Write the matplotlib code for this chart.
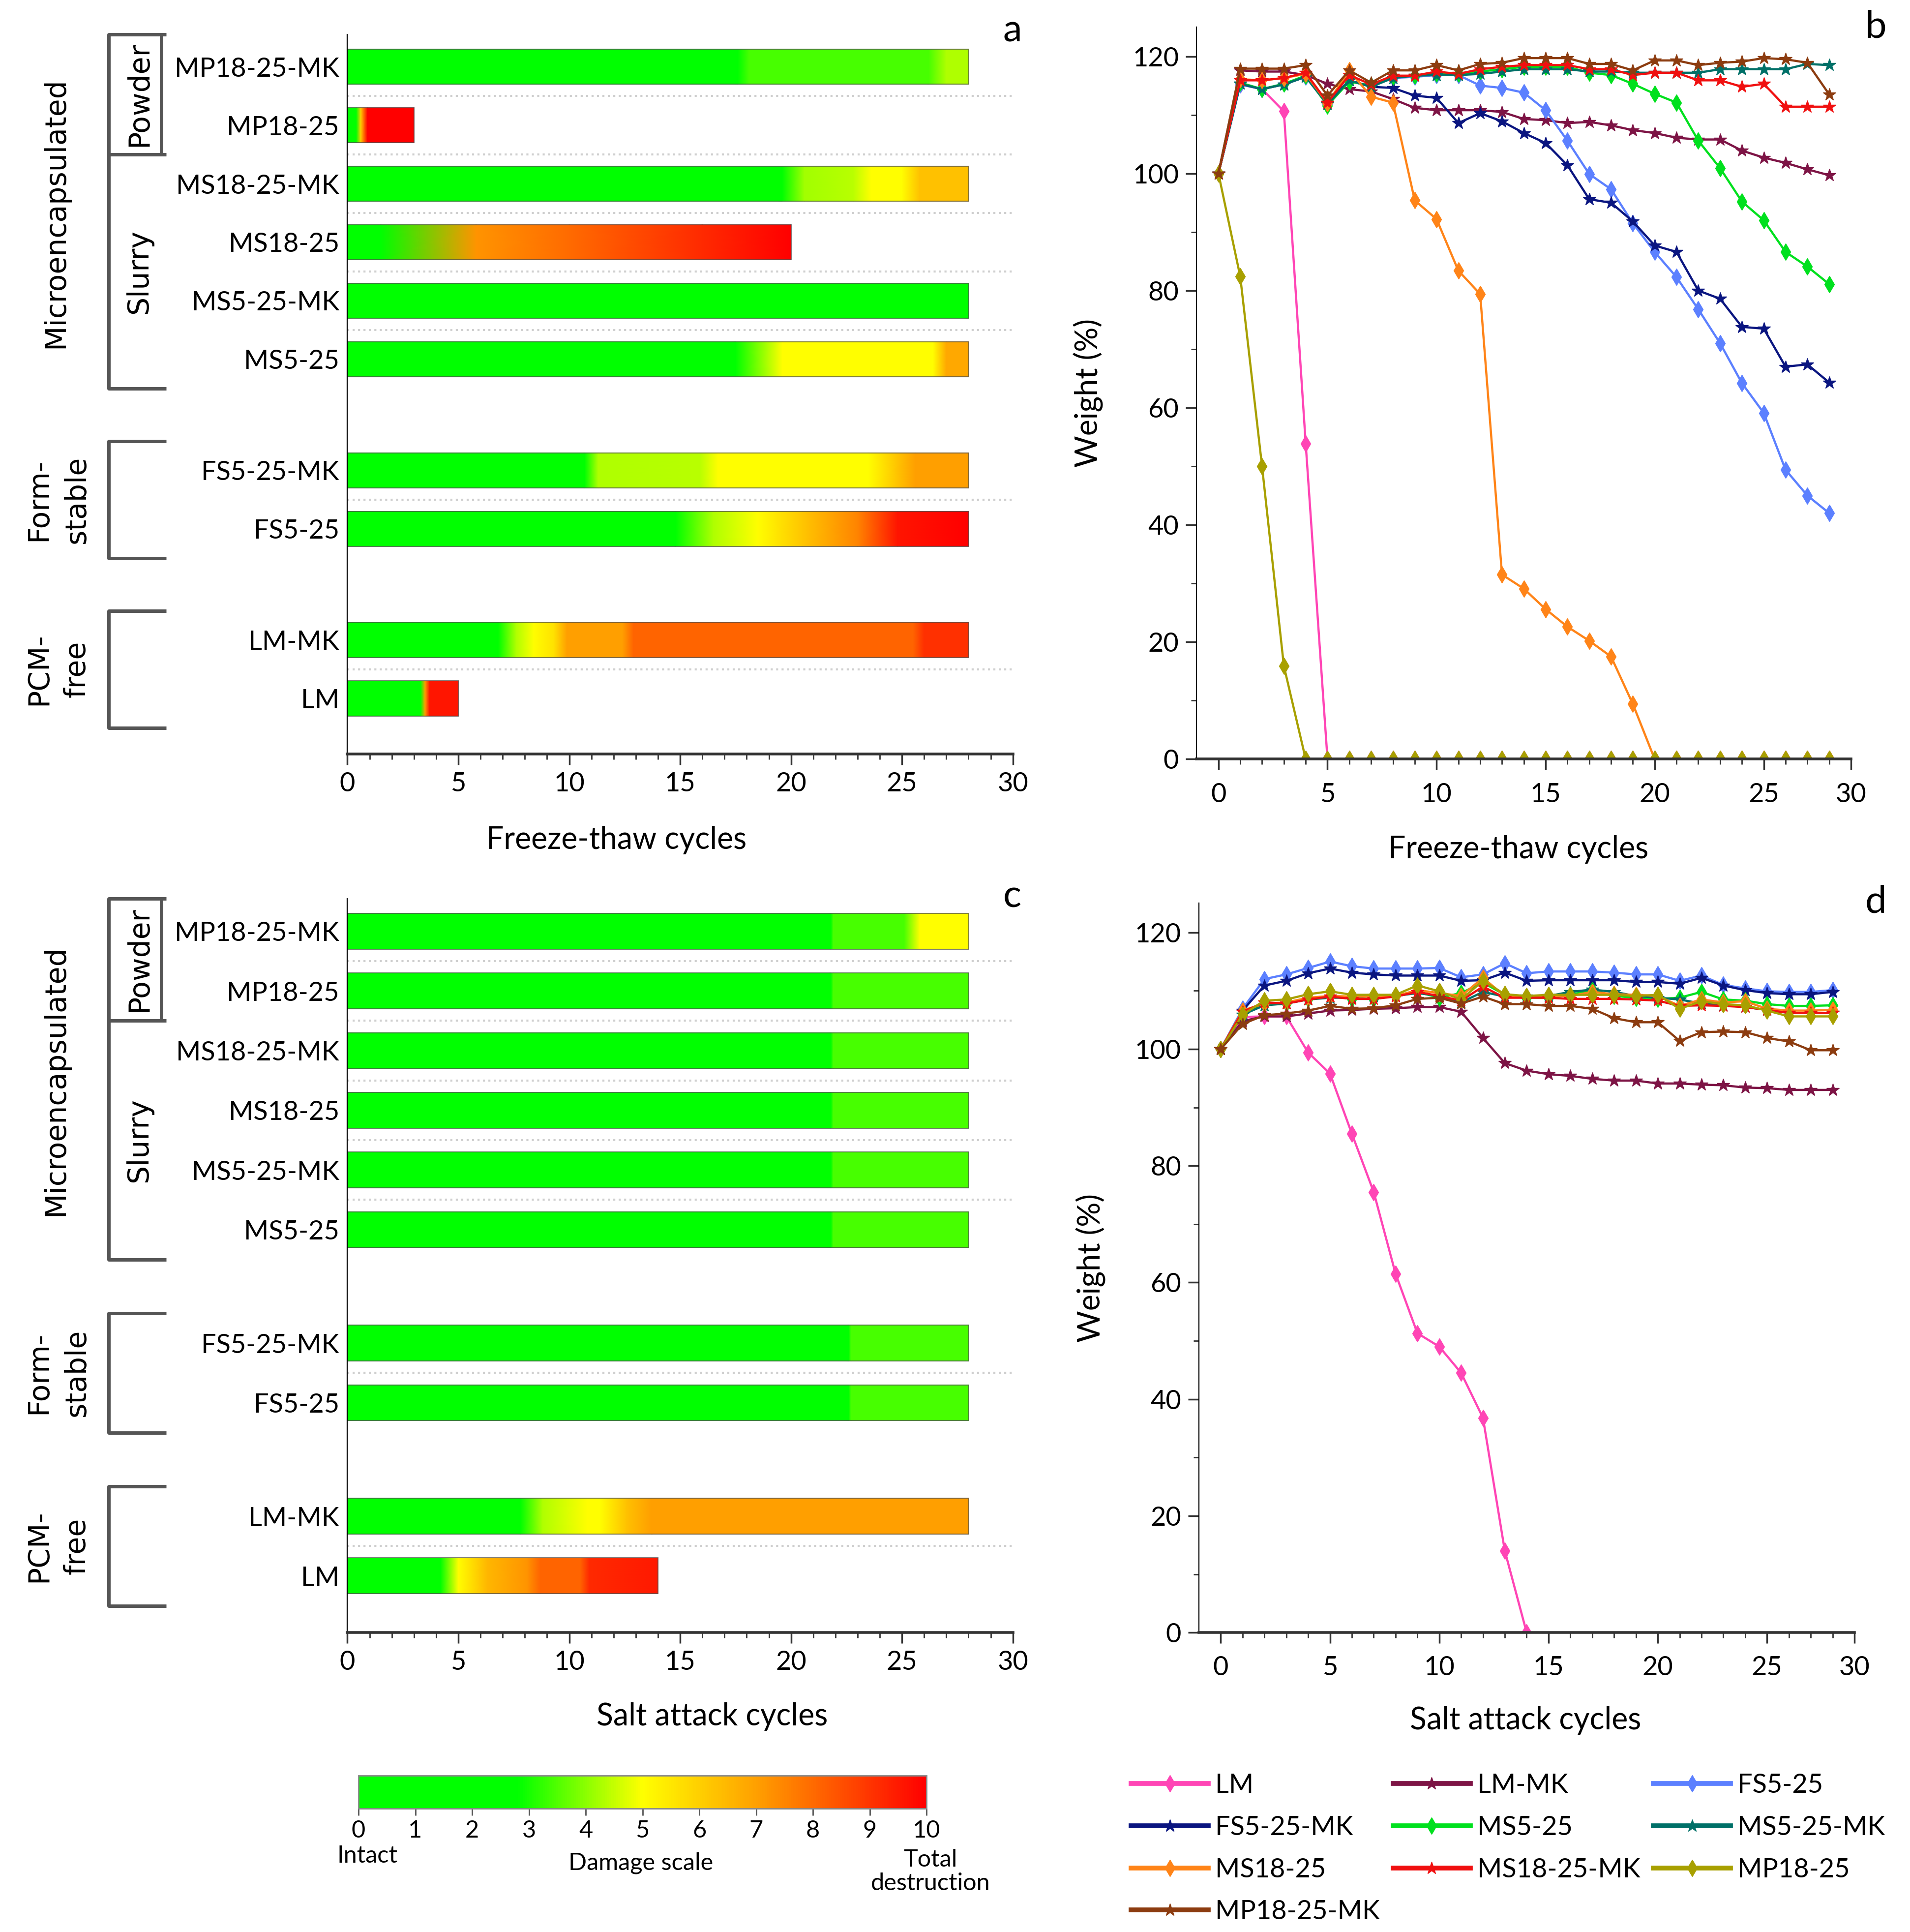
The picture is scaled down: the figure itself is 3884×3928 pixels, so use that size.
import matplotlib.pyplot as plt
import numpy as np
import matplotlib.cm as cm
from matplotlib.colors import LinearSegmentedColormap, Normalize
from matplotlib.patches import Rectangle
from matplotlib.ticker import FixedLocator, MultipleLocator

plt.rcParams['font.family'] = ['Lato', 'DejaVu Sans']

# ---- data ----------------------------------------------------------------
samples = ['LM', 'LM-MK', 'FS5-25', 'FS5-25-MK', 'MS5-25', 'MS5-25-MK',
           'MS18-25', 'MS18-25-MK', 'MP18-25', 'MP18-25-MK']
sample_group = [0, 0, 1, 1, 2, 2, 2, 2, 2, 2]   # PCM-free, Form-stable, Microencapsulated

colors = ['#ff45b5', '#7d1445', '#5c80ff', '#0a1580', '#00e01e', '#007068',
          '#ff8418', '#f01010', '#a8a000', '#8c3c10']
markers = ['d', '*', 'd', '*', 'd', '*', 'd', '*', 'd', '*']

cycles = list(range(29))

# damage scale (0-10) along each bar: (cycle, damage) colour stops
ft_damage = {
    'LM':         [(0, 0), (3.3, 0), (3.5, 7), (3.7, 9.6), (5, 9.6)],
    'LM-MK':      [(0, 0), (6.8, 0), (7.6, 4.3), (8.4, 5), (9.3, 5.6), (9.9, 7), (12.4, 7),
                   (12.9, 8.1), (25.5, 8.1), (26, 9.1), (28, 9.1)],
    'FS5-25':     [(0, 0), (14.8, 0), (16.5, 4.3), (18.5, 5), (20.5, 6.2), (23, 7.5),
                   (24.8, 9.6), (28, 10)],
    'FS5-25-MK':  [(0, 0), (10.7, 0), (11.3, 4.3), (15.9, 4.4), (16.7, 5), (23.5, 5),
                   (25.6, 7), (28, 7)],
    'MS5-25':     [(0, 0), (17.5, 0), (19.6, 5), (26.4, 5), (27, 6.8), (28, 6.8)],
    'MS5-25-MK':  [(0, 0), (28, 0)],
    'MS18-25':    [(0, 0), (1.5, 0), (5.8, 7.2), (10, 8.0), (16, 9.2), (20, 10)],
    'MS18-25-MK': [(0, 0), (19.6, 0), (20.6, 4.2), (22.8, 4.4), (23.6, 5), (25, 5),
                   (25.8, 6.3), (28, 6.3)],
    'MP18-25':    [(0, 0), (0.4, 0), (0.6, 6), (0.9, 10), (3, 10)],
    'MP18-25-MK': [(0, 0), (17.6, 0), (18.1, 3.4), (26.2, 3.4), (27, 4.3), (28, 4.3)],
}
sa_damage = {
    'LM':         [(0, 0), (4.2, 0), (5.0, 5), (6.3, 6.5), (8.1, 7.2), (8.7, 8.1),
                   (10.5, 8.1), (10.9, 9.2), (14, 9.5)],
    'LM-MK':      [(0, 0), (7.8, 0), (8.8, 4.3), (10.8, 5), (11.4, 5), (12.6, 6.3),
                   (13.7, 7), (28, 7)],
    'FS5-25':     [(0, 0), (22.6, 0), (22.7, 3.4), (28, 3.4)],
    'FS5-25-MK':  [(0, 0), (22.6, 0), (22.7, 3.4), (28, 3.4)],
    'MS5-25':     [(0, 0), (21.8, 0), (21.9, 3.4), (28, 3.4)],
    'MS5-25-MK':  [(0, 0), (21.8, 0), (21.9, 3.4), (28, 3.4)],
    'MS18-25':    [(0, 0), (21.8, 0), (21.9, 3.4), (28, 3.4)],
    'MS18-25-MK': [(0, 0), (21.8, 0), (21.9, 3.4), (28, 3.4)],
    'MP18-25':    [(0, 0), (21.8, 0), (21.9, 3.4), (28, 3.4)],
    'MP18-25-MK': [(0, 0), (21.8, 0), (21.9, 3.4), (25.1, 3.4), (25.8, 5), (28, 5)],
}

# weight (%) after each cycle
ft_weight = {
    'LM':         [100, 115.2, 114.4, 110.6, 53.9] + [0] * 24,
    'LM-MK':      [100, 117.6, 117.4, 117.4, 116.8, 115.3, 114.4, 114.0, 112.7, 111.2, 110.8,
                   110.8, 110.8, 110.5, 109.3, 109.1, 108.6, 108.8, 108.2, 107.4, 106.9, 106.1,
                   105.8, 105.8, 103.9, 102.7, 101.8, 100.7, 99.7],
    'FS5-25':     [100, 115.2, 114.4, 115.3, 116.5, 111.8, 115.7, 115.0, 116.3, 116.5, 116.8,
                   116.8, 115.0, 114.6, 113.8, 110.8, 105.6, 99.9, 97.3, 91.5, 86.6, 82.3, 76.8,
                   71.0, 64.2, 59.1, 49.4, 45.0, 42.0],
    'FS5-25-MK':  [100, 115.3, 114.4, 115.2, 116.5, 112.1, 115.9, 114.8, 114.6, 113.3, 112.9,
                   108.6, 110.3, 108.9, 106.9, 105.2, 101.4, 95.6, 95.0, 91.8, 87.7, 86.6, 80.0,
                   78.6, 73.8, 73.5, 67.0, 67.4, 64.3],
    'MS5-25':     [100, 115.5, 114.4, 115.3, 116.7, 111.6, 115.7, 115.0, 116.5, 116.7, 117.0,
                   117.0, 117.4, 117.8, 118.2, 118.2, 118.2, 117.2, 116.8, 115.3, 113.6, 112.1,
                   105.6, 100.9, 95.2, 92.0, 86.6, 84.1, 81.1],
    'MS5-25-MK':  [100, 115.3, 114.4, 115.2, 116.5, 111.8, 115.9, 114.8, 116.3, 116.7, 116.8,
                   116.8, 117.0, 117.4, 117.8, 117.8, 117.8, 117.4, 117.4, 117.2, 117.2, 117.2,
                   117.2, 117.8, 117.8, 117.8, 117.8, 118.7, 118.5],
    'MS18-25':    [100, 116.1, 115.9, 116.3, 117.0, 112.0, 117.6, 113.1, 112.1, 95.4, 92.2, 83.4,
                   79.4, 31.5, 29.1, 25.6, 22.6, 20.2, 17.5, 9.4] + [0] * 9,
    'MS18-25-MK': [100, 115.9, 115.9, 116.3, 117.2, 112.1, 116.8, 115.2, 116.7, 116.7, 117.4,
                   117.0, 117.8, 118.2, 118.5, 118.5, 118.5, 117.8, 117.8, 116.8, 117.2, 117.2,
                   115.9, 115.9, 114.8, 115.3, 111.4, 111.4, 111.4],
    'MP18-25':    [100, 82.4, 50.0, 15.9] + [0] * 25,
    'MP18-25-MK': [100, 117.9, 117.9, 117.9, 118.5, 113.3, 117.6, 115.5, 117.6, 117.6, 118.5,
                   117.6, 118.7, 118.9, 119.7, 119.7, 119.7, 118.7, 118.7, 117.6, 119.3, 119.3,
                   118.5, 118.9, 119.1, 119.7, 119.5, 118.9, 113.5],
}
sa_weight = {
    'LM':         [100, 105.5, 105.6, 105.6, 99.4, 95.8, 85.5, 75.5, 61.5, 51.3, 49.0, 44.5,
                   36.8, 14.0, 0],
    'LM-MK':      [100, 104.8, 105.6, 105.6, 106.1, 106.6, 106.7, 106.9, 107.0, 107.2, 107.2,
                   106.4, 101.9, 97.6, 96.3, 95.7, 95.4, 94.9, 94.6, 94.6, 94.1, 94.1, 93.9,
                   93.8, 93.4, 93.3, 93.0, 93.0, 93.0],
    'FS5-25':     [100, 106.9, 112.0, 112.8, 113.9, 115.0, 114.2, 113.8, 113.8, 113.8, 113.9,
                   112.3, 112.8, 114.7, 113.0, 113.3, 113.3, 113.3, 113.1, 112.8, 112.8, 111.7,
                   112.6, 111.0, 110.4, 109.9, 109.8, 109.8, 110.1],
    'FS5-25-MK':  [100, 106.6, 110.9, 111.7, 113.0, 113.8, 113.1, 112.8, 112.6, 112.6, 112.6,
                   111.7, 111.8, 113.1, 111.7, 111.8, 111.8, 111.8, 111.8, 111.5, 111.5, 111.2,
                   112.2, 110.9, 110.1, 109.6, 109.4, 109.4, 109.8],
    'MS5-25':     [100, 105.9, 107.7, 107.8, 108.6, 109.1, 108.6, 108.6, 109.1, 109.8, 108.8,
                   109.6, 111.4, 109.3, 108.8, 108.8, 109.3, 110.1, 109.1, 108.8, 108.6, 108.8,
                   109.8, 108.5, 108.3, 107.7, 107.4, 107.4, 107.5],
    'MS5-25-MK':  [100, 105.9, 107.5, 107.8, 108.5, 108.8, 108.8, 109.1, 109.1, 109.6, 109.1,
                   108.0, 109.8, 109.0, 109.0, 109.1, 109.8, 110.2, 109.8, 109.1, 108.8, 108.5,
                   107.8, 107.5, 107.2, 106.7, 106.2, 106.2, 106.2],
    'MS18-25':    [100, 106.6, 107.8, 108.0, 108.8, 109.1, 109.0, 109.0, 109.1, 110.1, 109.6,
                   109.1, 112.2, 109.1, 109.0, 109.1, 109.1, 109.8, 109.4, 109.3, 109.1, 107.4,
                   108.5, 108.0, 108.2, 106.9, 106.6, 106.6, 106.7],
    'MS18-25-MK': [100, 106.4, 108.0, 107.8, 108.5, 109.0, 108.6, 108.6, 109.0, 109.8, 109.1,
                   108.3, 110.7, 108.8, 108.8, 108.8, 108.6, 108.6, 108.6, 108.5, 108.3, 107.4,
                   107.5, 107.4, 107.2, 106.7, 106.2, 106.2, 106.2],
    'MP18-25':    [100, 105.9, 108.3, 108.5, 109.4, 109.9, 109.3, 109.3, 109.3, 110.9, 109.9,
                   108.5, 111.7, 109.4, 109.1, 109.3, 109.3, 109.3, 109.3, 109.1, 109.3, 106.9,
                   108.2, 107.7, 107.5, 106.6, 105.6, 105.6, 105.6],
    'MP18-25-MK': [100, 104.3, 105.8, 106.1, 106.6, 107.4, 106.9, 107.0, 107.5, 108.6, 108.8,
                   107.8, 109.0, 107.7, 107.7, 107.4, 107.4, 106.9, 105.3, 104.6, 104.6, 101.4,
                   102.9, 103.0, 102.9, 101.9, 101.3, 99.8, 99.8],
}

# ---- styling -------------------------------------------------------------
damage_cmap = LinearSegmentedColormap.from_list(
    'damage', [(0.0, '#00ff00'), (0.28, '#00ff00'), (0.5, '#ffff00'),
               (0.7, '#ffa000'), (1.0, '#ff0000')])
norm = Normalize(0, 10)

TICK_FS = 39
LABEL_FS = 45
GROUP_FS = 42

ypos = [i + 0.9 * g for i, g in enumerate(sample_group)]
bar_h = 0.6

fig = plt.figure(figsize=(38.84, 39.28), dpi=100)


def style_bottom(ax):
    ax.spines['top'].set_visible(False)
    ax.spines['right'].set_visible(False)
    ax.spines['bottom'].set_linewidth(4)
    ax.spines['bottom'].set_color('#333333')
    ax.spines['left'].set_linewidth(1.6)


def bar_panel(rect, damage, xlabel, xlabel_xy, letter, letter_xy):
    ax = fig.add_axes(rect)
    for i, name in enumerate(samples):
        y = ypos[i]
        xs = np.array([s[0] for s in damage[name]], dtype=float)
        vs = np.array([s[1] for s in damage[name]], dtype=float)
        X = np.vstack([xs, xs])
        Y = np.vstack([np.full_like(xs, y - bar_h / 2), np.full_like(xs, y + bar_h / 2)])
        ax.pcolormesh(X, Y, np.vstack([vs, vs]), shading='gouraud', cmap=damage_cmap, norm=norm)
        ax.add_patch(Rectangle((0, y - bar_h / 2), xs[-1], bar_h, fill=False,
                               ec='#4d4d4d', lw=1.5, alpha=0.7))
    # dotted separators inside groups
    for i in range(len(samples) - 1):
        if sample_group[i] == sample_group[i + 1]:
            ym = (ypos[i] + ypos[i + 1]) / 2
            ax.plot([0, 30], [ym, ym], color='#cfcfcf', ls=':', lw=3)

    ax.set_xlim(0, 30)
    ax.set_ylim(-0.95, 11.35)
    ax.set_yticks(ypos)
    ax.set_yticklabels(samples)
    ax.xaxis.set_major_locator(MultipleLocator(5))
    ax.xaxis.set_minor_locator(MultipleLocator(1))
    ax.tick_params(axis='y', length=0, pad=12, labelsize=TICK_FS)
    ax.tick_params(axis='x', which='major', length=16, width=2.5, pad=10,
                   labelsize=TICK_FS, color='#333333')
    ax.tick_params(axis='x', which='minor', length=8, width=2, color='#333333')
    style_bottom(ax)
    ax.set_xlabel(xlabel, fontsize=LABEL_FS)
    ax.xaxis.set_label_coords(*xlabel_xy)

    # group brackets
    tr = ax.get_yaxis_transform()
    xv, xh = -0.359, -0.272
    kw = dict(transform=tr, clip_on=False, color='#555555', lw=5, solid_capstyle='butt')
    for lo, hi in [(-0.5, 1.5), (2.4, 4.4), (5.3, 11.35)]:
        ax.plot([xh, xv, xv, xh], [hi, hi, lo, lo], **kw)
    ax.plot([xv, xh], [9.3, 9.3], **kw)
    ax.plot([-0.28, -0.28], [9.3, 11.35], **kw)

    tkw = dict(transform=tr, rotation=90, ha='center', va='center',
               fontsize=GROUP_FS, family='DejaVu Sans', linespacing=1.45)
    ax.text(-0.439, 8.3, 'Microencapsulated', **tkw)
    ax.text(-0.313, 10.33, 'Powder', **tkw)
    ax.text(-0.313, 7.3, 'Slurry', **tkw)
    ax.text(-0.435, 3.4, 'Form-\nstable', **tkw)
    ax.text(-0.435, 0.5, 'PCM-\nfree', **tkw)

    fig.text(letter_xy[0], letter_xy[1], letter, fontsize=56, ha='center', va='center')
    return ax


def line_panel(rect, weight, xlabel, xlabel_xy, letter, letter_xy):
    ax = fig.add_axes(rect)
    lines = []
    for i, name in enumerate(samples):
        w = weight[name]
        ln, = ax.plot(cycles[:len(w)], w, color=colors[i], marker=markers[i],
                      markersize=19 if markers[i] == '*' else 17,
                      markeredgecolor=colors[i], lw=3.2, label=name)
        lines.append(ln)
    ax.set_xlim(-1, 29)
    ax.set_ylim(0, 125)
    ax.xaxis.set_major_locator(FixedLocator([0, 5, 10, 15, 20, 25, 29]))
    ax.set_xticklabels(['0', '5', '10', '15', '20', '25', '30'])
    ax.xaxis.set_minor_locator(FixedLocator(cycles))
    ax.yaxis.set_major_locator(MultipleLocator(20))
    ax.yaxis.set_minor_locator(MultipleLocator(10))
    ax.tick_params(which='major', length=16, width=2.5, pad=10, labelsize=TICK_FS,
                   color='#333333')
    ax.tick_params(axis='x', which='major', pad=18)
    ax.tick_params(which='minor', length=8, width=2, color='#333333')
    style_bottom(ax)
    ax.set_xlabel(xlabel, fontsize=LABEL_FS)
    ax.xaxis.set_label_coords(*xlabel_xy)
    ax.set_ylabel('Weight (%)', fontsize=LABEL_FS)
    ax.yaxis.set_label_coords(-0.142, 0.5)
    fig.text(letter_xy[0], letter_xy[1], letter, fontsize=56, ha='center', va='center')
    return ax, lines


bar_panel([0.1819, 0.6097, 0.3484, 0.3724], ft_damage, 'Freeze-thaw cycles', (0.404, -0.100),
          'a', (0.530, 0.984))
bar_panel([0.1819, 0.1550, 0.3484, 0.3800], sa_damage, 'Salt attack cycles', (0.548, -0.095),
          'c', (0.530, 0.536))
line_panel([0.6265, 0.6071, 0.3426, 0.3789], ft_weight, 'Freeze-thaw cycles', (0.492, -0.104),
           'b', (0.982, 0.986))
ax_d, d_lines = line_panel([0.6277, 0.1550, 0.3432, 0.3775], sa_weight, 'Salt attack cycles',
                           (0.498, -0.101), 'd', (0.982, 0.533))

# ---- damage colour scale ---------------------------------------------------
cax = fig.add_axes([0.1877, 0.0638, 0.2974, 0.0172])
cb = fig.colorbar(cm.ScalarMappable(norm=norm, cmap=damage_cmap), cax=cax,
                  orientation='horizontal')
cb.set_ticks(range(11))
cax.tick_params(labelsize=35, length=10, width=2, color='#555555', pad=6)
cb.outline.set_edgecolor('#888888')
cb.outline.set_linewidth(2)
fig.text(298 / 1550, 1 - 1506 / 1568, 'Intact', ha='center', va='center', fontsize=35)
fig.text(520 / 1550, 1 - 1512 / 1568, 'Damage scale', ha='center', va='center', fontsize=35)
fig.text(755 / 1550, 1 - 1519 / 1568, 'Total\ndestruction', ha='center', va='center',
         fontsize=35, linespacing=1.1)

# ---- legend (row-wise order as in the figure) --------------------------------
order = [0, 3, 6, 9, 1, 4, 7, 2, 5, 8]
leg = fig.legend([d_lines[k] for k in order], [samples[k] for k in order],
                 loc='upper left', bbox_to_anchor=(918 / 1550, 1 - 1439 / 1568), ncol=3,
                 frameon=False, fontsize=TICK_FS, handlelength=2.9, handletextpad=0.25,
                 columnspacing=0.5, labelspacing=0.68, borderpad=0, borderaxespad=0)
for ln in leg.get_lines():
    ln.set_linewidth(7)

fig.savefig('out.png', dpi=100)
